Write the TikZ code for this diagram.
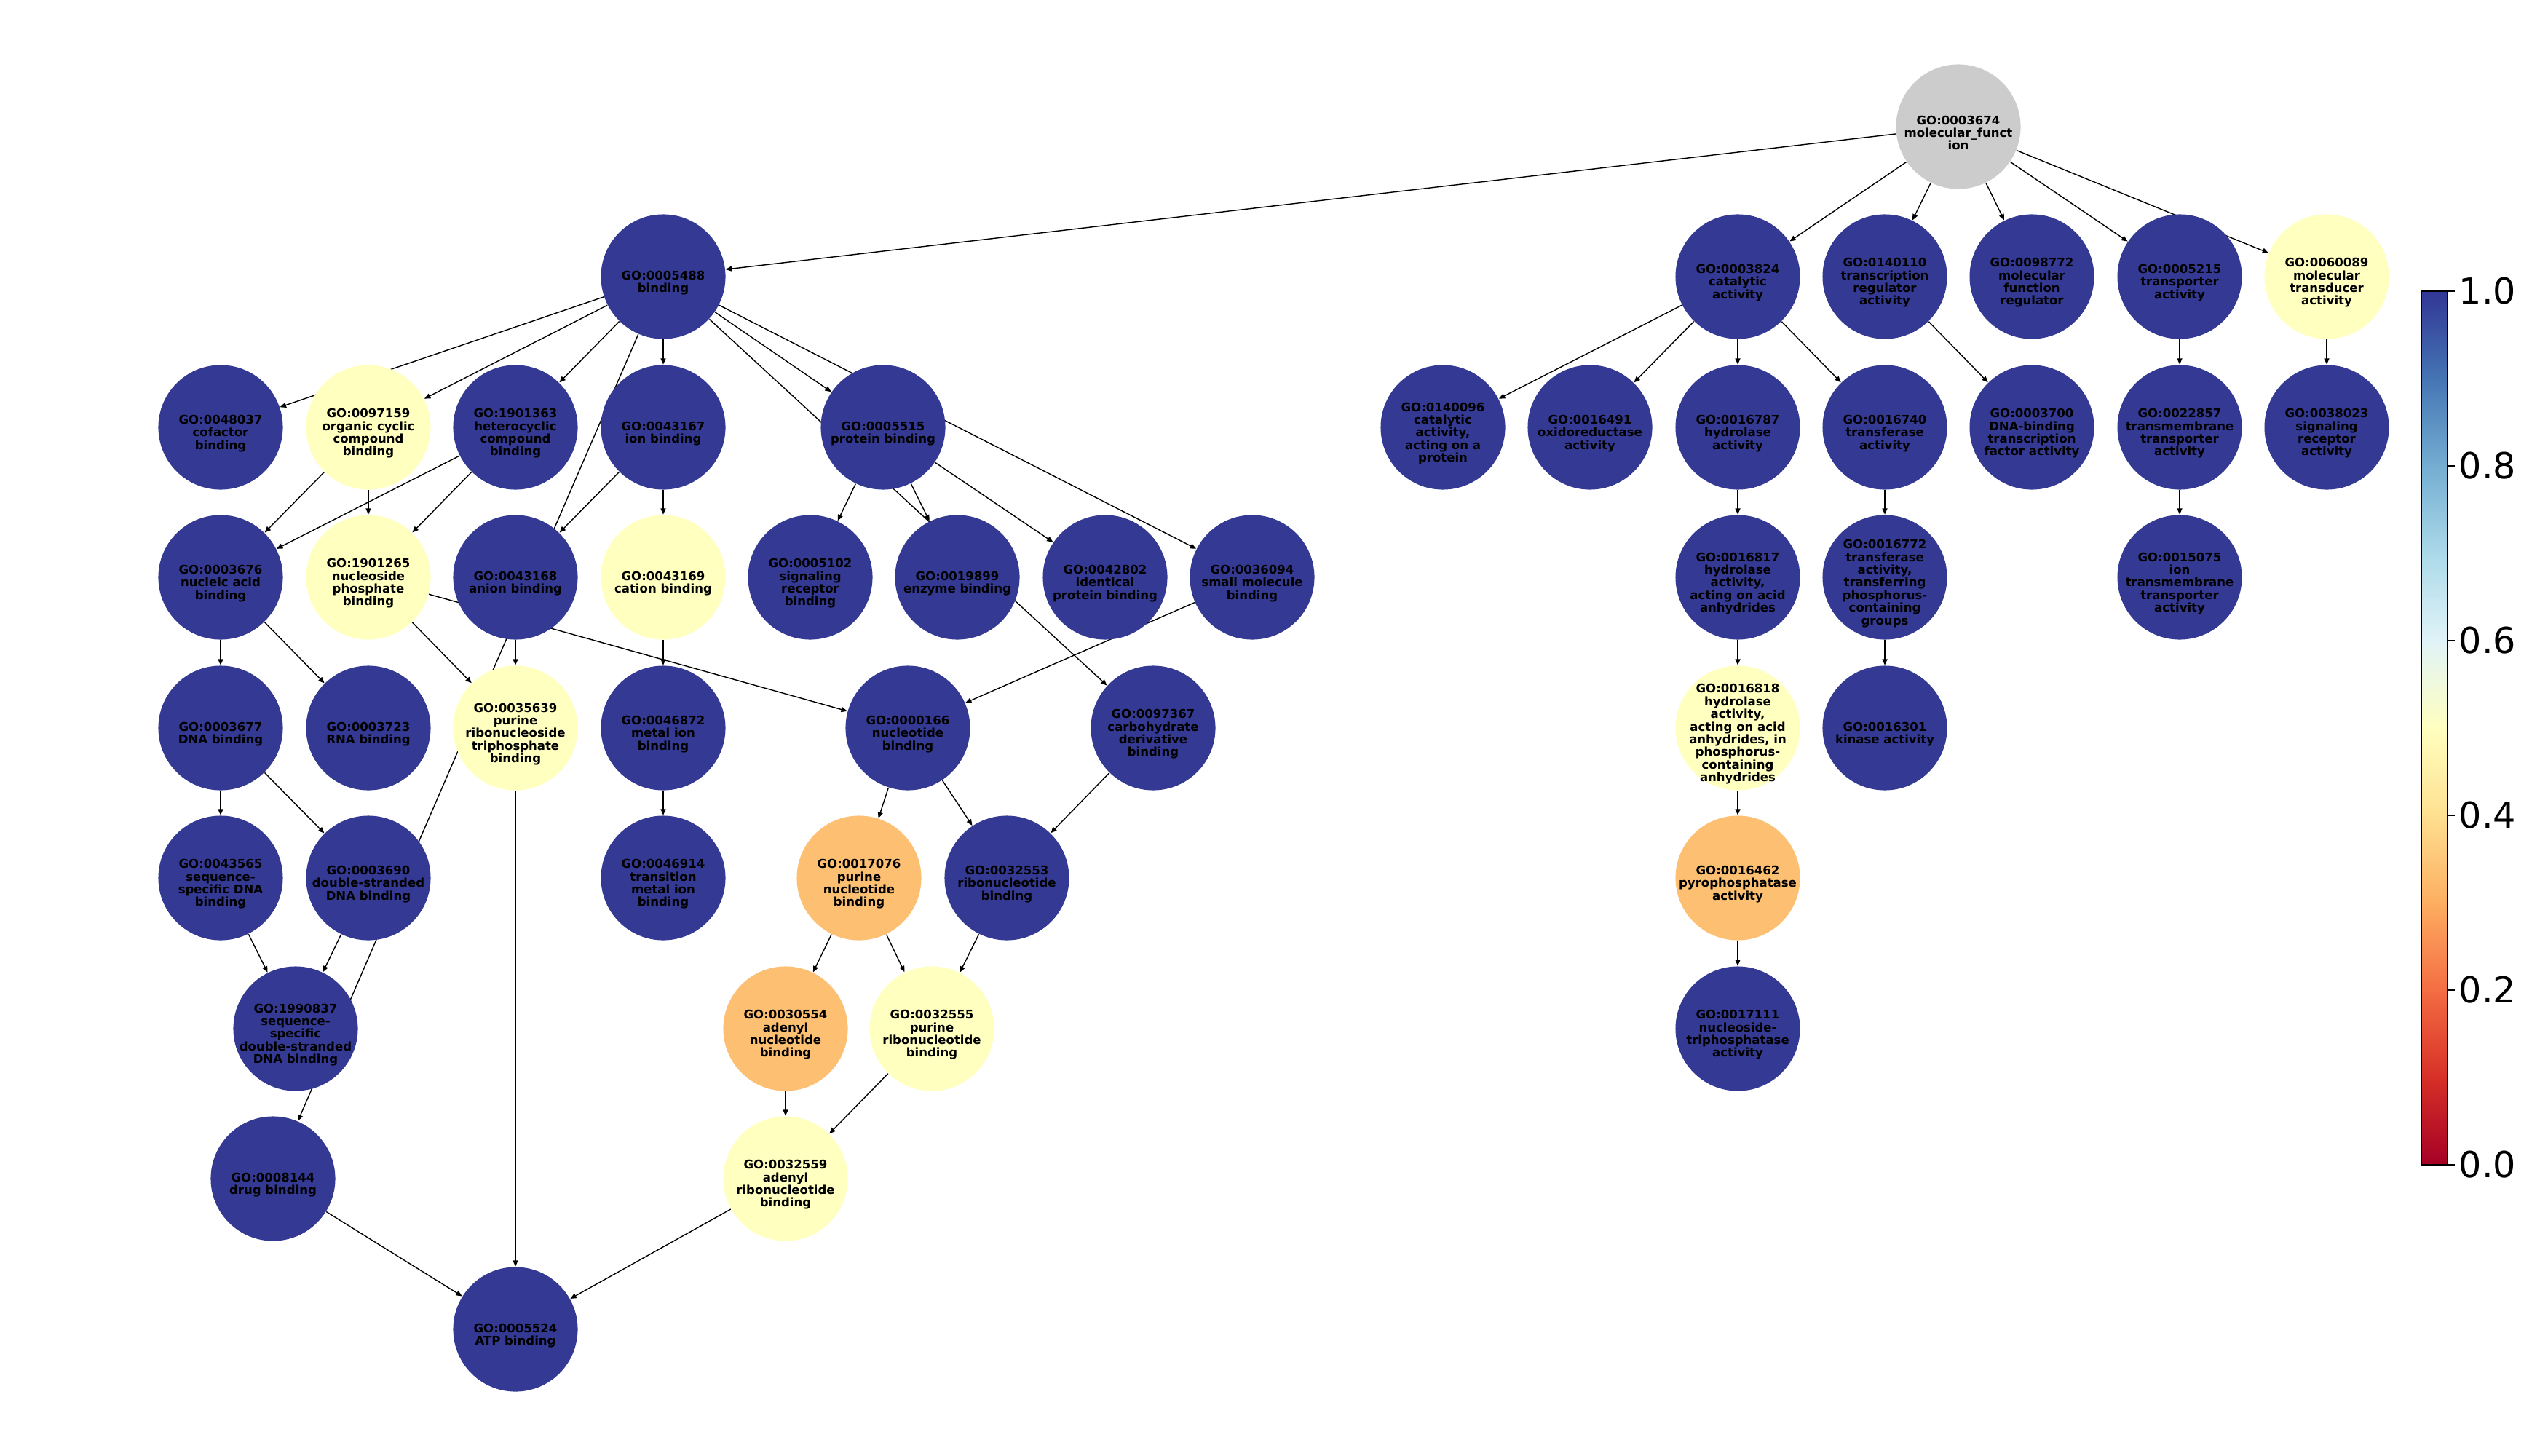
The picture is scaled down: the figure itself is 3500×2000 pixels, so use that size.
\documentclass[tikz,border=0pt]{standalone}
\usepackage{fontspec}
\newfontfamily\lblfont{DejaVu Sans}
\usetikzlibrary{arrows.meta,backgrounds}

% node fills
\definecolor{hiblue}{RGB}{52,58,148}
\definecolor{midyel}{RGB}{255,255,191}
\definecolor{loorg}{RGB}{253,191,113}
\definecolor{rootgray}{RGB}{204,204,204}
% RdYlBu colour map, 0.0 ... 1.0
\definecolor{cb0}{HTML}{A50026}
\definecolor{cb1}{HTML}{D73027}
\definecolor{cb2}{HTML}{F46D43}
\definecolor{cb3}{HTML}{FDAE61}
\definecolor{cb4}{HTML}{FEE090}
\definecolor{cb5}{HTML}{FFFFBF}
\definecolor{cb6}{HTML}{E0F3F8}
\definecolor{cb7}{HTML}{ABD9E9}
\definecolor{cb8}{HTML}{74ADD1}
\definecolor{cb9}{HTML}{4575B4}
\definecolor{cb10}{HTML}{313695}

% a GO term: fixed-size disc plus its label, set a little below the centre
% #1 fill style, #2 name, #3 position, #4 label
\newcommand\goterm[4]{%
  \node[#1] (#2) at (#3) {};
  \node[termtext] (#2t) at (#3) {#4};}

\begin{document}
\begin{tikzpicture}[x=0.01cm,y=-0.01cm,
  term/.style={circle,minimum size=1.71cm,inner sep=0pt},
  termtext/.style={inner sep=0pt,align=center,yshift=-0.085cm,
    font=\lblfont\bfseries\fontsize{4.7pt}{4.95pt}\selectfont,text=black},
  hi/.style={term,fill=hiblue},
  mid/.style={term,fill=midyel},
  lo/.style={term,fill=loorg},
  rootterm/.style={term,fill=rootgray},
  link/.style={-{Triangle[length=2.4pt,width=2pt]},line width=0.4pt,black},
  ticklbl/.style={anchor=west,inner sep=0pt,font=\lblfont\fontsize{14pt}{16pt}\selectfont}]

\useasboundingbox (0,0) rectangle (3500,2000);

% ---------- root ----------
\goterm{rootterm}{root}{2690,174}{GO:0003674\\molecular\_funct\\ion}

% ---------- binding branch ----------
\goterm{hi}{binding}{911,380}{GO:0005488\\binding}

\goterm{hi}{n0048037}{303,587}{GO:0048037\\cofactor\\binding}
\goterm{mid}{n0097159}{506,587}{GO:0097159\\organic cyclic\\compound\\binding}
\goterm{hi}{n1901363}{708,587}{GO:1901363\\heterocyclic\\compound\\binding}
\goterm{hi}{n0043167}{911,587}{GO:0043167\\ion binding}
\goterm{hi}{n0005515}{1213,587}{GO:0005515\\protein binding}

\goterm{hi}{n0003676}{303,793}{GO:0003676\\nucleic acid\\binding}
\goterm{mid}{n1901265}{506,793}{GO:1901265\\nucleoside\\phosphate\\binding}
\goterm{hi}{n0043168}{708,793}{GO:0043168\\anion binding}
\goterm{mid}{n0043169}{911,793}{GO:0043169\\cation binding}
\goterm{hi}{n0005102}{1113,793}{GO:0005102\\signaling\\receptor\\binding}
\goterm{hi}{n0019899}{1315,793}{GO:0019899\\enzyme binding}
\goterm{hi}{n0042802}{1518,793}{GO:0042802\\identical\\protein binding}
\goterm{hi}{n0036094}{1720,793}{GO:0036094\\small molecule\\binding}

\goterm{hi}{n0003677}{303,1000}{GO:0003677\\DNA binding}
\goterm{hi}{n0003723}{506,1000}{GO:0003723\\RNA binding}
\goterm{mid}{n0035639}{708,1000}{GO:0035639\\purine\\ribonucleoside\\triphosphate\\binding}
\goterm{hi}{n0046872}{911,1000}{GO:0046872\\metal ion\\binding}
\goterm{hi}{n0000166}{1247,1000}{GO:0000166\\nucleotide\\binding}
\goterm{hi}{n0097367}{1584,1000}{GO:0097367\\carbohydrate\\derivative\\binding}

\goterm{hi}{n0043565}{303,1206}{GO:0043565\\sequence-\\specific DNA\\binding}
\goterm{hi}{n0003690}{506,1206}{GO:0003690\\double-stranded\\DNA binding}
\goterm{hi}{n0046914}{911,1206}{GO:0046914\\transition\\metal ion\\binding}
\goterm{lo}{n0017076}{1180,1206}{GO:0017076\\purine\\nucleotide\\binding}
\goterm{hi}{n0032553}{1383,1206}{GO:0032553\\ribonucleotide\\binding}

\goterm{hi}{n1990837}{406,1413}{GO:1990837\\sequence-\\specific\\double-stranded\\DNA binding}
\goterm{lo}{n0030554}{1079,1413}{GO:0030554\\adenyl\\nucleotide\\binding}
\goterm{mid}{n0032555}{1280,1413}{GO:0032555\\purine\\ribonucleotide\\binding}

\goterm{hi}{n0008144}{375,1619}{GO:0008144\\drug binding}
\goterm{mid}{n0032559}{1079,1619}{GO:0032559\\adenyl\\ribonucleotide\\binding}

\goterm{hi}{n0005524}{708,1826}{GO:0005524\\ATP binding}

% ---------- remaining branches ----------
\goterm{hi}{n0003824}{2387,380}{GO:0003824\\catalytic\\activity}
\goterm{hi}{n0140110}{2589,380}{GO:0140110\\transcription\\regulator\\activity}
\goterm{hi}{n0098772}{2791,380}{GO:0098772\\molecular\\function\\regulator}
\goterm{hi}{n0005215}{2994,380}{GO:0005215\\transporter\\activity}
\goterm{mid}{n0060089}{3196,380}{GO:0060089\\molecular\\transducer\\activity}

\goterm{hi}{n0140096}{1982,587}{GO:0140096\\catalytic\\activity,\\acting on a\\protein}
\goterm{hi}{n0016491}{2184,587}{GO:0016491\\oxidoreductase\\activity}
\goterm{hi}{n0016787}{2387,587}{GO:0016787\\hydrolase\\activity}
\goterm{hi}{n0016740}{2589,587}{GO:0016740\\transferase\\activity}
\goterm{hi}{n0003700}{2791,587}{GO:0003700\\DNA-binding\\transcription\\factor activity}
\goterm{hi}{n0022857}{2994,587}{GO:0022857\\transmembrane\\transporter\\activity}
\goterm{hi}{n0038023}{3196,587}{GO:0038023\\signaling\\receptor\\activity}

\goterm{hi}{n0016817}{2387,793}{GO:0016817\\hydrolase\\activity,\\acting on acid\\anhydrides}
\goterm{hi}{n0016772}{2589,793}{GO:0016772\\transferase\\activity,\\transferring\\phosphorus-\\containing\\groups}
\goterm{hi}{n0015075}{2994,793}{GO:0015075\\ion\\transmembrane\\transporter\\activity}

\goterm{mid}{n0016818}{2387,1000}{GO:0016818\\hydrolase\\activity,\\acting on acid\\anhydrides, in\\phosphorus-\\containing\\anhydrides}
\goterm{hi}{n0016301}{2589,1000}{GO:0016301\\kinase activity}

\goterm{lo}{n0016462}{2387,1206}{GO:0016462\\pyrophosphatase\\activity}
\goterm{hi}{n0017111}{2387,1413}{GO:0017111\\nucleoside-\\triphosphatase\\activity}

% ---------- connectors, beneath the circles ----------
\begin{scope}[on background layer]
  \foreach \s/\t in {
    root/binding, root/n0003824, root/n0140110, root/n0098772, root/n0005215, root/n0060089,
    binding/n0048037, binding/n0097159, binding/n1901363, binding/n0043167, binding/n0005515,
    binding/n0036094, binding/n0097367, binding/n0008144,
    n0097159/n0003676, n0097159/n1901265, n1901363/n0003676, n1901363/n1901265,
    n0043167/n0043168, n0043167/n0043169,
    n0005515/n0005102, n0005515/n0019899, n0005515/n0042802,
    n0003676/n0003677, n0003676/n0003723,
    n1901265/n0035639, n1901265/n0000166, n0043168/n0035639,
    n0043169/n0046872, n0036094/n0000166,
    n0003677/n0043565, n0003677/n0003690,
    n0035639/n0005524, n0046872/n0046914,
    n0000166/n0017076, n0000166/n0032553, n0097367/n0032553,
    n0043565/n1990837, n0003690/n1990837,
    n0017076/n0030554, n0017076/n0032555, n0032553/n0032555,
    n0030554/n0032559, n0032555/n0032559,
    n0008144/n0005524, n0032559/n0005524,
    n0003824/n0140096, n0003824/n0016491, n0003824/n0016787, n0003824/n0016740,
    n0140110/n0003700, n0005215/n0022857, n0060089/n0038023,
    n0016787/n0016817, n0016740/n0016772, n0016817/n0016818, n0016772/n0016301,
    n0016818/n0016462, n0016462/n0017111, n0022857/n0015075}
    \draw[link] (\s) -- (\t);
\end{scope}

% ---------- colour bar ----------
\foreach \a/\b [count=\i from 0] in {cb0/cb1,cb1/cb2,cb2/cb3,cb3/cb4,cb4/cb5,cb5/cb6,cb6/cb7,cb7/cb8,cb8/cb9,cb9/cb10}
  \shade[bottom color=\a,top color=\b] (3326,{1601-120*\i}) rectangle (3362,{1479-120*\i});
\draw[line width=0.4pt] (3326,400) rectangle (3362,1600);
\foreach \v/\yy [count=\k] in {1.0/400,0.8/640,0.6/880,0.4/1120,0.2/1360,0.0/1600}{
  \draw[line width=0.4pt] (3362,\yy) -- (3372,\yy);
  \node[ticklbl] (tick\k) at (3377,\yy) {\v};
}
\end{tikzpicture}
\end{document}
